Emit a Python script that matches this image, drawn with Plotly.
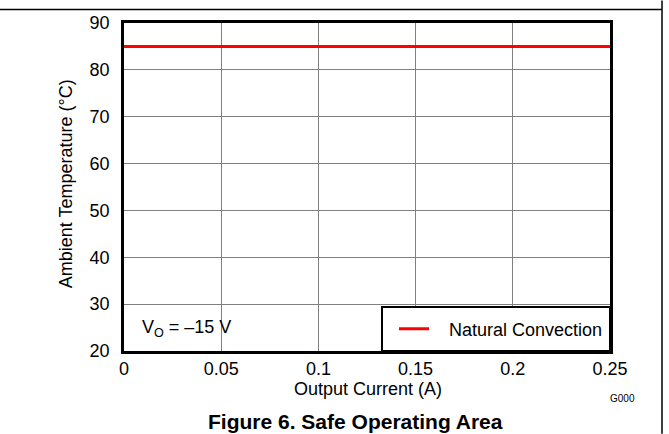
import plotly.graph_objects as go

# Data
current_a = [0.0, 0.25]
temp_natural = [85, 85]
series_name = "Natural Convection"
x_ticks = [0, 0.05, 0.1, 0.15, 0.2, 0.25]
x_tick_text = ["0", "0.05", "0.1", "0.15", "0.2", "0.25"]
y_ticks = [20, 30, 40, 50, 60, 70, 80, 90]

W, H = 669, 434
PL, PR, PT, PB = 124, 610, 22.5, 351  # plot box in screenshot pixels
L, R, T, B = PL, W - PR, PT, H - PB
pw = W - L - R
ph = H - T - B

def px(xs):
    return (xs - L) / pw

def py(ys):
    return (H - B - ys) / ph

FONT = "Liberation Sans, Arial, sans-serif"

fig = go.Figure()
fig.add_trace(go.Scatter(
    x=current_a, y=temp_natural, mode="lines", name="\u00a0\u00a0\u00a0" + series_name,
    line=dict(color="#ff0000", width=3), showlegend=True,
))

fig.update_layout(
    width=W, height=H,
    margin=dict(l=L, r=R, t=T, b=B, pad=0, autoexpand=False),
    paper_bgcolor="white", plot_bgcolor="white",
    font=dict(family=FONT, size=18, color="black"),
    showlegend=True,
    legend=dict(
        x=px(394), y=py(329), xanchor="left", yanchor="middle",
        bgcolor="rgba(0,0,0,0)", borderwidth=0,
        font=dict(family=FONT, size=18, color="black"),
        itemwidth=30,
    ),
    xaxis=dict(
        range=[0, 0.25], tickvals=x_ticks, ticktext=x_tick_text,
        showgrid=True, gridcolor="#808080", gridwidth=1,
        showline=True, linecolor="black", linewidth=2.5, mirror=True,
        ticks="", zeroline=False, ticklabelstandoff=0, automargin=False,
        tickfont=dict(family=FONT, size=18),
    ),
    yaxis=dict(
        range=[20, 90], tickvals=y_ticks,
        showgrid=True, gridcolor="#808080", gridwidth=1,
        showline=True, linecolor="black", linewidth=2.5, mirror=True,
        ticks="", zeroline=False, ticklabelstandoff=8, automargin=False,
        tickfont=dict(family=FONT, size=18),
    ),
)

shapes = [
    # legend box
    dict(type="rect", xref="paper", yref="paper",
         x0=px(382), x1=1, y0=0, y1=py(307),
         line=dict(color="black", width=2), fillcolor="white", layer="above"),
    # outer frame lines
    dict(type="line", xref="paper", yref="paper",
         x0=px(0), x1=px(662), y0=py(9), y1=py(9),
         line=dict(color="black", width=1.5)),
    dict(type="line", xref="paper", yref="paper",
         x0=px(662), x1=px(662), y0=py(0), y1=py(434),
         line=dict(color="black", width=1.5)),
]
fig.update_layout(shapes=shapes)

annotations = [
    dict(text="V<sub>O</sub> = \u201315 V", x=px(140), y=py(328), xref="paper", yref="paper",
         xanchor="left", yanchor="middle", showarrow=False, font=dict(size=18)),
    dict(text="Output Current (A)", x=px(368), y=py(389), xref="paper", yref="paper",
         xanchor="center", yanchor="middle", showarrow=False, font=dict(size=18)),
    dict(text="Ambient Temperature (\u00b0C)", x=px(66), y=py(184), xref="paper", yref="paper",
         xanchor="center", yanchor="middle", showarrow=False, textangle=-90, font=dict(size=18)),
    dict(text="G000", x=px(622), y=py(399), xref="paper", yref="paper",
         xanchor="center", yanchor="middle", showarrow=False, font=dict(size=10)),
    dict(text="<b>Figure 6. Safe Operating Area</b>", x=px(355), y=py(422), xref="paper", yref="paper",
         xanchor="center", yanchor="middle", showarrow=False, font=dict(size=21)),
]
fig.update_layout(annotations=annotations)

fig.write_html(
    "out.html",
    config={"displayModeBar": False},
    post_script=(
        "document.body.style.margin='0px';"
        "document.body.style.overflow='hidden';"
        "document.documentElement.style.overflow='hidden';"
    ),
)
